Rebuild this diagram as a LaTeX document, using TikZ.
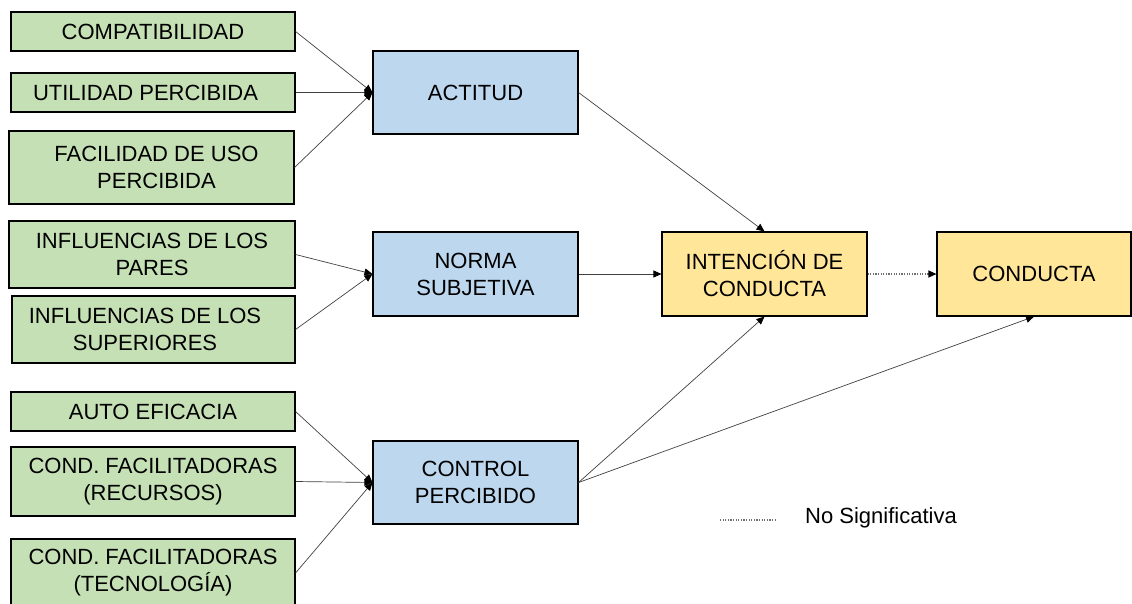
\documentclass[tikz,border=0pt]{standalone}
\usepackage{fontspec}
\setmainfont{Liberation Sans}
\usetikzlibrary{arrows.meta}

\definecolor{boxgreen}{HTML}{C5E0B4}
\definecolor{boxblue}{HTML}{BDD7EE}
\definecolor{boxyellow}{HTML}{FFE699}
\definecolor{linkgray}{HTML}{404040}
\definecolor{dotgray}{HTML}{707070}

\tikzset{
  box/.style={draw=black, line width=1.1pt, rectangle, inner sep=0pt,
    align=center, text=black,
    font=\fontsize{22}{27}\selectfont},
  factor/.style={box, fill=boxgreen},
  construct/.style={box, fill=boxblue, minimum width=205pt, minimum height=83pt},
  outcome/.style={box, fill=boxyellow, minimum height=84pt},
  tip/.style={-{Triangle[length=8pt,width=7pt,color=black]}},
  link/.style={draw=linkgray, line width=0.7pt, tip},
  weakline/.style={draw=dotgray, line width=1.1pt, dash pattern=on 1.2pt off 1.4pt},
  weaklink/.style={weakline, tip}
}

\begin{document}
\begin{tikzpicture}[x=1pt, y=-1pt]
\useasboundingbox (0,0) rectangle (1132,604);

% predictor boxes
\node[factor, minimum width=284pt, minimum height=39pt] (comp) at (153,31.5) {COMPATIBILIDAD};
\node[factor, minimum width=284pt, minimum height=39pt] (util) at (153,92.5) {UTILIDAD PERCIBIDA\hspace*{15pt}};
\node[factor, minimum width=285pt, minimum height=73pt] (faci) at (151.5,167.5) {\hspace*{10pt}FACILIDAD DE USO\\\hspace*{10pt}PERCIBIDA};
\node[factor, minimum width=286pt, minimum height=67pt] (pares) at (152,254.5) {INFLUENCIAS DE LOS\\PARES};
\node[factor, minimum width=283pt, minimum height=67pt] (sup) at (153.5,329.5) {INFLUENCIAS DE LOS\hspace*{17pt}\\SUPERIORES\hspace*{17pt}};
\node[factor, minimum width=284pt, minimum height=39pt] (auto) at (153,411.5) {AUTO EFICACIA};
\node[factor, minimum width=284pt, minimum height=69pt] (rec) at (153,481.5) {COND. FACILITADORAS\\(RECURSOS)};
\node[factor, minimum width=284pt, minimum height=68pt] (tec) at (153,573) {COND. FACILITADORAS\\(TECNOLOGÍA)};

% intermediate constructs
\node[construct] (act) at (475.5,92.5) {ACTITUD};
\node[construct, minimum height=84pt] (norma) at (475.5,274) {NORMA\\SUBJETIVA};
\node[construct] (ctrl) at (475.5,482.5) {CONTROL\\PERCIBIDO};

% intention and behaviour
\node[outcome, minimum width=205pt] (int) at (764.5,274) {INTENCIÓN DE\\CONDUCTA};
\node[outcome, minimum width=194pt] (cond) at (1034,274) {CONDUCTA};

% predictors to constructs
\draw[link] (comp.east) -- (act.west);
\draw[link] (util.east) -- (act.west);
\draw[link] (faci.east) -- (act.west);
\draw[link] (pares.east) -- (norma.west);
\draw[link] (sup.east) -- (norma.west);
\draw[link] (auto.east) -- (ctrl.west);
\draw[link] (rec.east) -- (ctrl.west);
\draw[link] (tec.east) -- (ctrl.west);

% constructs to intention and behaviour
\draw[link] (act.east) -- (int.north);
\draw[link] (norma.east) -- (int.west);
\draw[link] (ctrl.east) -- (int.south);
\draw[link] (ctrl.east) -- (cond.south);
\draw[weaklink] (int.east) -- (cond.west);

% legend
\coordinate (legA) at (720,520);
\coordinate (legB) at (776,520);
\draw[weakline] (legA) -- (legB);
\node[anchor=west, inner sep=0pt, font=\fontsize{22}{27}\selectfont] (legtext) at (805,518) {No Significativa};
\end{tikzpicture}
\end{document}
